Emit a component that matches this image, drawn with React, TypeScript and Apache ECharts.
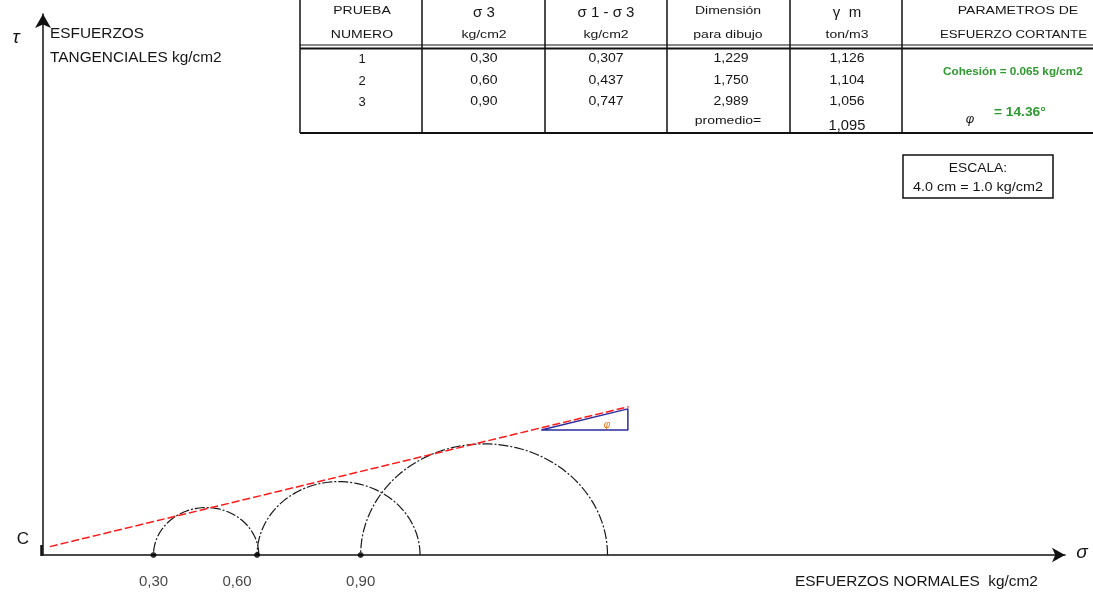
import React, { useEffect, useRef } from "react";
import * as echarts from "echarts";

// ---- data ----
const sigma3 = [0.30, 0.60, 0.90];           // circle left ends (kg/cm2)
const sigma1 = [0.605, 1.072, 1.615];        // circle right ends (kg/cm2)
const sigma3Labels = ["0,30", "0,60", "0,90"];
const envelopeX = [0, 1.676];                // failure envelope
const envelopeY = [0.027, 0.477];
const triangleX = [1.423, 1.674, 1.674, 1.423];
const triangleY = [0.402, 0.402, 0.470, 0.402];

// ---- table ----
const pruebaNumero = ["1", "2", "3"];
const sigma3Text = ["0,30", "0,60", "0,90"];
const deltaSigmaText = ["0,307", "0,437", "0,747"];
const dimensionText = ["1,229", "1,750", "2,989"];
const gammaText = ["1,126", "1,104", "1,056"];
const gammaPromedio = "1,095";
const cohesionText = "Cohesión = 0.065 kg/cm2";
const phiText = "= 14.36°";

const FONT = "Liberation Sans, Arial, sans-serif";

export default function App() {
  const ref = useRef<HTMLDivElement>(null);
  useEffect(() => {
    document.body.style.margin = "0";
    const chart = echarts.init(ref.current!, null, { renderer: "svg" });

    const colEdges = [300, 422, 545, 667, 790, 902];
    const colCenters = [362, 484, 606, 731, 847];
    const rowY = [58, 80, 101];
    const txt = (x: number, y: number, text: string, o: any = {}) => ({
      type: "text",
      x,
      y,
      scaleX: o.sx || 1,
      silent: true,
      style: {
        text,
        fill: o.fill || "#151515",
        font: `${o.style || "normal"} ${o.weight || "normal"} ${o.size || 12}px ${o.family || FONT}`,
        textAlign: o.align || "center",
        textVerticalAlign: "middle",
      },
    });
    const ln = (x1: number, y1: number, x2: number, y2: number, w = 1) => ({
      type: "line",
      silent: true,
      shape: { x1, y1, x2, y2 },
      style: { stroke: "#111", lineWidth: w },
    });

    const H = { size: 11.5, sx: 1.22 };
    const graphics: any[] = [];
    colEdges.forEach((x) => graphics.push(ln(x, 0, x, 133, 1.5)));
    graphics.push(ln(300, 45, 1093, 45, 1));
    graphics.push(ln(300, 48.5, 1093, 48.5, 2));
    graphics.push(ln(300, 133, 1093, 133, 2));
    // headers
    graphics.push(txt(colCenters[0], 10, "PRUEBA", H));
    graphics.push(txt(colCenters[0], 34, "NUMERO", H));
    graphics.push(txt(colCenters[1], 11, "σ 3", { size: 15 }));
    graphics.push(txt(colCenters[1], 34, "kg/cm2", H));
    graphics.push(txt(colCenters[2], 11, "σ 1 - σ 3", { size: 15 }));
    graphics.push(txt(colCenters[2], 34, "kg/cm2", H));
    graphics.push(txt(728, 10, "Dimensión", H));
    graphics.push(txt(728, 34, "para dibujo", H));
    graphics.push(txt(colCenters[4], 11, "γ  m", { size: 15 }));
    graphics.push(txt(colCenters[4], 34, "ton/m3", H));
    graphics.push(txt(1018, 10, "PARAMETROS DE", H));
    graphics.push(txt(940, 34, "ESFUERZO CORTANTE", { size: 11.5, sx: 1.15, align: "left" }));
    // rows
    rowY.forEach((y, i) => {
      graphics.push(txt(colCenters[0], y, pruebaNumero[i], { size: 13 }));
      graphics.push(txt(colCenters[1], y, sigma3Text[i], { size: 13, sx: 1.08 }));
      graphics.push(txt(colCenters[2], y, deltaSigmaText[i], { size: 13, sx: 1.08 }));
      graphics.push(txt(colCenters[3], y, dimensionText[i], { size: 13, sx: 1.08 }));
      graphics.push(txt(colCenters[4], y, gammaText[i], { size: 13, sx: 1.08 }));
    });
    graphics.push(txt(728, 120, "promedio=", H));
    graphics.push(txt(colCenters[4], 125, gammaPromedio, { size: 14, sx: 1.05 }));
    graphics.push(txt(943, 71, cohesionText, { size: 11.5, sx: 1.02, align: "left", fill: "#2f9a2f", weight: "bold" }));
    graphics.push(txt(970, 118, "φ", { size: 13, style: "italic" }));
    graphics.push(txt(994, 112, phiText, { size: 12.5, sx: 1.1, align: "left", fill: "#2f9a2f", weight: "bold" }));
    // scale box
    graphics.push({
      type: "rect",
      silent: true,
      shape: { x: 903, y: 155, width: 150, height: 43 },
      style: { fill: "none", stroke: "#111", lineWidth: 1.5 },
    });
    graphics.push(txt(978, 168, "ESCALA:", { size: 12, sx: 1.15 }));
    graphics.push(txt(978, 187, "4.0 cm = 1.0 kg/cm2", { size: 12, sx: 1.2 }));
    // axis names
    graphics.push(txt(16, 36, "τ", { size: 19, style: "italic" }));
    graphics.push(txt(50, 33, "ESFUERZOS", { size: 14, sx: 1.1, align: "left" }));
    graphics.push(txt(50, 57, "TANGENCIALES kg/cm2", { size: 14, sx: 1.1, align: "left" }));
    graphics.push(txt(1082, 551, "σ", { size: 19, style: "italic" }));
    graphics.push(txt(795, 581, "ESFUERZOS NORMALES  kg/cm2", { size: 14, sx: 1.1, align: "left" }));
    graphics.push(txt(23, 538, "C", { size: 17 }));
    graphics.push(ln(41.5, 545, 41.5, 556, 2.5));
    graphics.push(txt(607, 424, "φ", { size: 10, fill: "#f07010", style: "italic" }));

    chart.setOption({
      animation: false,
      grid: { left: 43, right: 28, top: 14, bottom: 39 },
      xAxis: {
        type: "value",
        min: -0.02,
        max: 2.94,
        axisLine: {
          show: true,
          onZero: false,
          symbol: ["none", "arrow"],
          symbolSize: [11, 13],
          lineStyle: { color: "#111", width: 1.5 },
        },
        axisTick: { show: false },
        axisLabel: { show: false },
        splitLine: { show: false },
      },
      yAxis: {
        type: "value",
        min: 0,
        max: 1.74,
        axisLine: {
          show: true,
          onZero: false,
          symbol: ["none", "arrow"],
          symbolSize: [12, 14],
          lineStyle: { color: "#111", width: 1.5 },
        },
        axisTick: { show: false },
        axisLabel: { show: false },
        splitLine: { show: false },
      },
      graphic: graphics,
      series: [
        {
          type: "custom",
          silent: true,
          clip: false,
          data: sigma3.map((s, i) => [s, sigma1[i]]),
          renderItem: (params: any, api: any) => {
            const s3 = api.value(0);
            const s1 = api.value(1);
            const c = (s3 + s1) / 2;
            const r = (s1 - s3) / 2;
            const pts: number[][] = [];
            for (let k = 0; k <= 72; k++) {
              const t = (Math.PI * k) / 72;
              pts.push(api.coord([c + r * Math.cos(t), r * Math.sin(t)]));
            }
            return {
              type: "polyline",
              shape: { points: pts },
              style: { stroke: "#1a1a1a", lineWidth: 1.2, lineDash: [10, 2, 2, 2], fill: null },
            };
          },
        },
        {
          type: "line",
          silent: true,
          symbol: "none",
          data: envelopeX.map((x, i) => [x, envelopeY[i]]),
          lineStyle: { color: "#ff1a1a", width: 1.5, type: [8, 3] },
        },
        {
          type: "line",
          silent: true,
          symbol: "none",
          data: triangleX.map((x, i) => [x, triangleY[i]]),
          lineStyle: { color: "#2b2ba0", width: 1.5 },
        },
        {
          type: "scatter",
          silent: true,
          symbol: "circle",
          symbolSize: 6,
          itemStyle: { color: "#000" },
          data: sigma3.map((s, i) => ({
            value: [s, 0],
            label: {
              show: true,
              position: "bottom",
              distance: 15,
              offset: [i === 1 ? -20 : 0, 0],
              formatter: sigma3Labels[i],
              fontFamily: FONT,
              fontSize: 15,
              color: "#151515",
            },
          })),
        },
      ],
    });
    return () => chart.dispose();
  }, []);
  return <div ref={ref} style={{ position: "fixed", left: 0, top: 0, width: 1093, height: 594 }} />;
}
